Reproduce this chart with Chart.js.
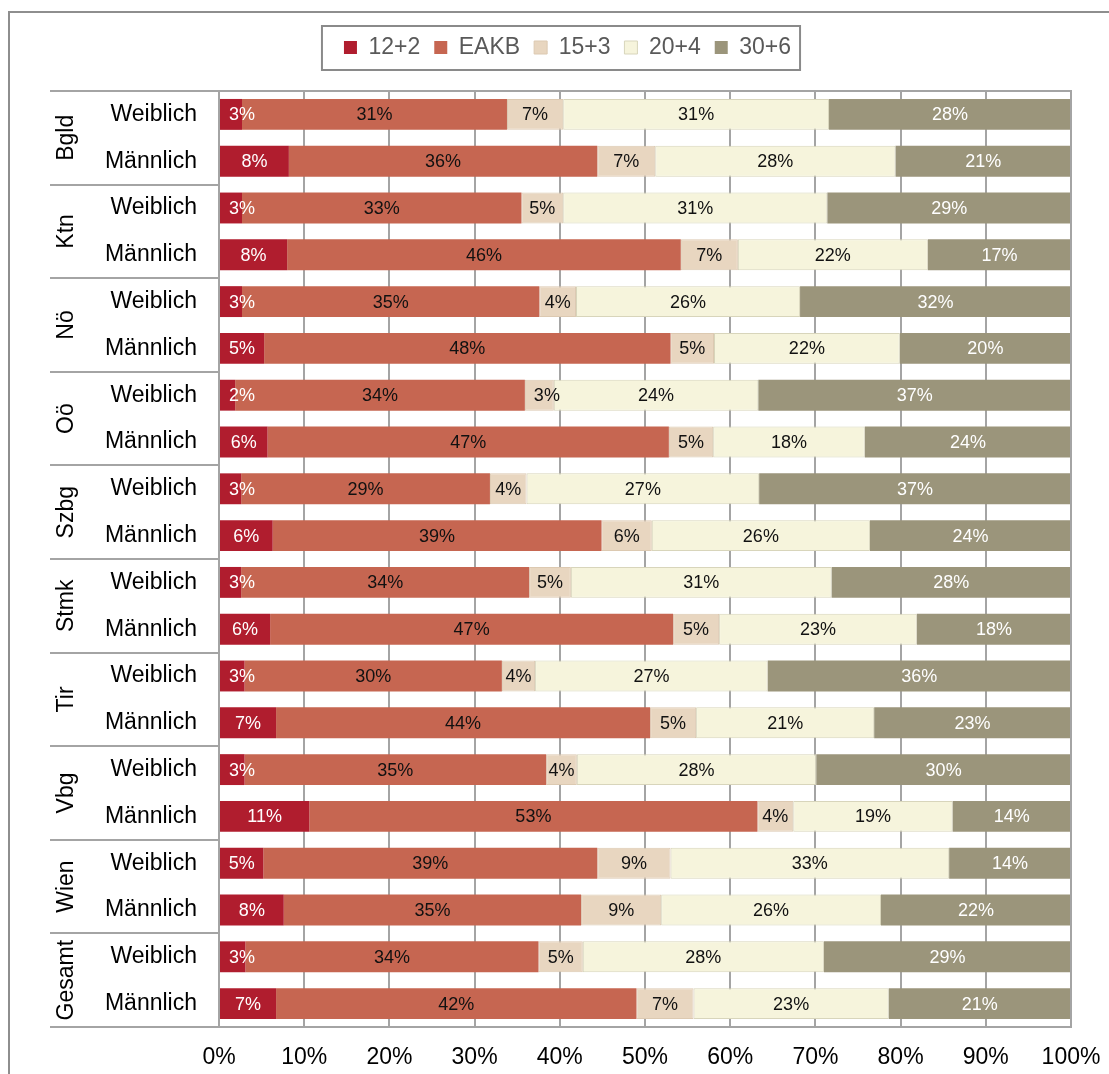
<!DOCTYPE html>
<html><head><meta charset="utf-8">
<script src="https://cdn.jsdelivr.net/npm/chart.js@4/dist/chart.umd.min.js"></script>
<style>html,body{margin:0;padding:0;background:#fff;}#wrap{width:1109px;height:1074px;position:relative;}canvas{display:block;}</style>
</head><body><div id="wrap"><canvas id="c" width="1109" height="1074" style="width:1109px;height:1074px"></canvas></div>
<script>
const regions = ['Bgld','Ktn','Nö','Oö','Szbg','Stmk','Tir','Vbg','Wien','Gesamt'];
const genders = ['Weiblich','Männlich'];
const seriesNames = ['12+2','EAKB','15+3','20+4','30+6'];
const xTickLabels = ['0%','10%','20%','30%','40%','50%','60%','70%','80%','90%','100%'];
const s12_2 = [2.7,8.2, 2.7,8.0, 2.7,5.3, 1.9,5.7, 2.6,6.3, 2.6,6.0, 3.0,6.7, 3.0,10.6, 5.2,7.6, 3.1,6.7];
const sEAKB = [31.1,36.2, 32.8,46.2, 34.9,47.7, 34.0,47.1, 29.2,38.6, 33.8,47.3, 30.2,43.9, 35.4,52.6, 39.2,34.9, 34.4,42.3];
const s15_3 = [6.6,6.8, 4.9,6.7, 4.3,5.1, 3.4,5.2, 4.3,5.9, 4.9,5.4, 3.9,5.4, 3.6,4.2, 8.6,9.4, 5.2,6.7];
const s20_4 = [31.2,28.2, 31.0,22.3, 26.3,21.8, 24.0,17.8, 27.3,25.6, 30.6,23.2, 27.3,20.9, 28.1,18.7, 32.7,25.8, 28.3,22.9];
const s30_6 = [28.4,20.6, 28.6,16.8, 31.8,20.1, 36.7,24.2, 36.6,23.6, 28.1,18.1, 35.6,23.1, 29.9,13.9, 14.3,22.3, 29.0,21.4];

const seriesData = [s12_2, sEAKB, s15_3, s20_4, s30_6];
const fills = ['#B01D2E','#C66651','#E8D6C0','#F6F4DC','#9B957B'];
const borders = ['#B01D2E','#C66651','#DCC9B1','#D8D5BB','#9B957B'];
const borderW = [0,0,1,1,0];
const labelColors = ['#ffffff','#111111','#111111','#111111','#ffffff'];
const FONT = '"Liberation Sans", Arial, Helvetica, sans-serif';
const GRID = '#a4a4a4';

const categories = regions.flatMap(r => genders.map(g => r + '|' + g));

const frameAndLabels = {
  id: 'frameAndLabels',
  beforeDraw(chart) {
    const ctx = chart.ctx;
    ctx.save();
    ctx.fillStyle = '#fff';
    ctx.fillRect(0, 0, chart.width, chart.height);
    ctx.strokeStyle = '#8e8e8e';
    ctx.lineWidth = 2;
    ctx.beginPath();
    ctx.moveTo(9, 1074); ctx.lineTo(9, 12); ctx.lineTo(1109, 12);
    ctx.stroke();
    const lg = chart.legend;
    if (lg && lg.legendHitBoxes && lg.legendHitBoxes.length) {
      const hb = lg.legendHitBoxes;
      const l = hb[0].left - 22, r = hb[hb.length - 1].left + hb[hb.length - 1].width + 9;
      ctx.strokeStyle = '#8a8a8a';
      ctx.strokeRect(l, lg.top + 4, r - l, lg.bottom - lg.top - 3);
    }
    ctx.restore();
  },
  afterDatasetsDraw(chart) {
    const ctx = chart.ctx;
    ctx.save();
    ctx.font = '18px ' + FONT;
    ctx.textBaseline = 'middle';
    ctx.textAlign = 'center';
    chart.data.datasets.forEach((ds, di) => {
      const meta = chart.getDatasetMeta(di);
      meta.data.forEach((el, i) => {
        const v = ds.data[i];
        const txt = Math.round(v) + '%';
        const left = Math.min(el.x, el.base), right = Math.max(el.x, el.base);
        const w = ctx.measureText(txt).width;
        let cx = (left + right) / 2;
        if (right - left < w + 4) cx = Math.max(cx, left + w / 2 + 9);
        ctx.fillStyle = labelColors[di];
        ctx.fillText(txt, cx, el.y + 1);
      });
    });
    ctx.restore();
  },
  afterDraw(chart) {
    const ctx = chart.ctx;
    const ca = chart.chartArea;
    const ys = chart.scales.y;
    ctx.save();
    ctx.strokeStyle = GRID;
    ctx.lineWidth = 2;
    ctx.strokeRect(ca.left, ca.top, ca.right - ca.left, ca.bottom - ca.top);
    const rowH = (ca.bottom - ca.top) / categories.length;
    ctx.beginPath();
    for (let k = 0; k <= regions.length; k++) {
      const y = Math.round(ca.top + k * genders.length * rowH);
      ctx.moveTo(50, y); ctx.lineTo(ca.left, y);
    }
    ctx.stroke();
    ctx.fillStyle = '#000';
    ctx.font = '23px ' + FONT;
    ctx.textAlign = 'center';
    ctx.textBaseline = 'alphabetic';
    regions.forEach((r, k) => {
      const cy = (ys.getPixelForValue(k * 2) + ys.getPixelForValue(k * 2 + 1)) / 2;
      ctx.save();
      ctx.translate(73, cy);
      ctx.rotate(-Math.PI / 2);
      ctx.fillText(r, 0, 0);
      ctx.restore();
    });
    ctx.restore();
  }
};

new Chart(document.getElementById('c'), {
  type: 'bar',
  data: {
    labels: categories,
    datasets: seriesNames.map((n, i) => ({
      label: n,
      data: seriesData[i],
      backgroundColor: fills[i],
      borderColor: borders[i],
      borderWidth: borderW[i],
      borderSkipped: false,
      barPercentage: 0.66,
      categoryPercentage: 1
    }))
  },
  options: {
    indexAxis: 'y',
    responsive: false,
    maintainAspectRatio: false,
    animation: false,
    devicePixelRatio: 1,
    layout: { padding: { top: 22, left: 64, right: 38, bottom: 0 } },
    plugins: {
      legend: {
        position: 'top',
        align: 'center',
        labels: { boxWidth: 13, boxHeight: 13, padding: 14, color: '#595959', font: { size: 23, family: FONT } }
      },
      tooltip: { enabled: false }
    },
    scales: {
      x: {
        stacked: true, min: 0, max: 100,
        position: 'bottom',
        afterFit(s) { s.height = 47; s.paddingRight = 30; s.paddingLeft = 0; },
        ticks: { stepSize: 10, padding: 17, color: '#000', maxRotation: 0, font: { size: 23, family: FONT },
                 callback: (v, i) => xTickLabels[i] },
        grid: { color: GRID, lineWidth: 2, drawTicks: false },
        border: { color: GRID, width: 2 }
      },
      xTop: {
        type: 'linear', position: 'top', display: true,
        afterFit(s) { s.height = 22; s.paddingRight = 0; s.paddingLeft = 0; },
        ticks: { display: false },
        grid: { display: false, drawTicks: false },
        border: { display: false }
      },
      y: {
        stacked: true,
        afterFit(s) { s.width = 155; },
        ticks: { padding: 22, color: '#000', autoSkip: false, font: { size: 23, family: FONT },
                 callback(v, i) { return categories[i].split('|')[1]; } },
        grid: { display: false, drawTicks: false },
        border: { color: GRID, width: 2 }
      }
    }
  },
  plugins: [frameAndLabels]
});
</script></body></html>
